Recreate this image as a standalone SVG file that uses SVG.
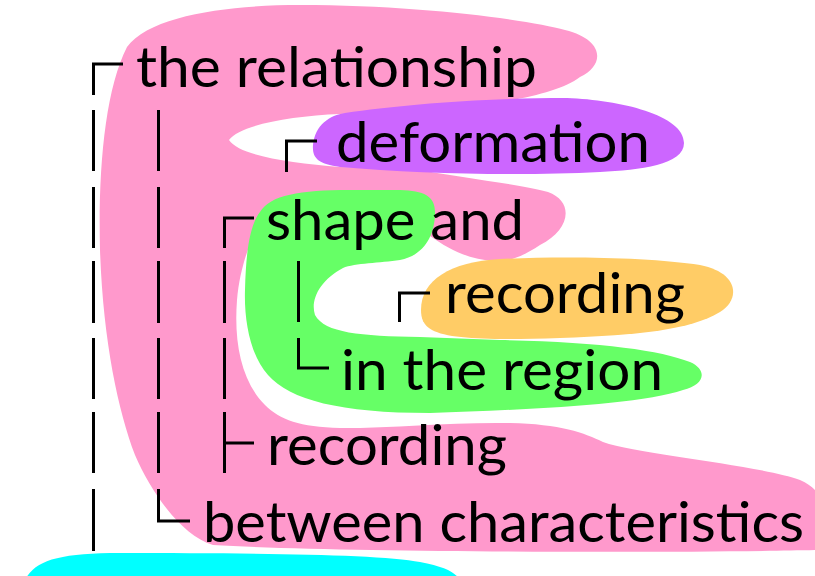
<svg xmlns="http://www.w3.org/2000/svg" width="815" height="576" viewBox="0 0 815 576">
<style>
.t{font-family:Lato,"Open Sans","Liberation Sans",sans-serif;font-size:57px;fill:#000}
.c{fill:none;stroke:#000;stroke-width:3;stroke-linejoin:miter;stroke-linecap:butt}
</style>
<rect width="815" height="576" fill="#fff"/>
<g id="highlights">
<path id="hl-pink" fill="#FF99CC" d="M127,47 C150,15 230,5 300,5 C420,5 530,20 565,30 C605,40 605,65 580,77 C560,92 520,100 467,107 C430,110 380,112 340,114 C290,116 240,125 229,140 C240,156 290,163 340,167 L410,168 C460,178 520,184 548,192 C575,202 570,230 540,245 C525,255 510,262 495,261 C470,260 450,250 430,236 L425,222 L262,222 C252,235 240,265 237,300 C234,340 240,380 265,405 C280,420 300,427 340,428 C400,428 450,422 510,423 C560,424 585,433 603,442 C640,455 760,465 800,480 C810,484 815,490 820,495 L820,550 C700,553 350,553 213,545 C180,535 150,490 135,455 C118,410 103,340 100,250 C98,170 105,90 127,47 Z"/>
<path id="hl-purple" fill="#CC66FF" d="M345,113 C400,105 480,98 567,98 C620,100 684,115 684,143 C684,165 640,170 600,172 C520,176 420,174 340,167 C318,164 312,158 313,145 C315,125 330,115 345,113 Z"/>
<path id="hl-green" fill="#66FF66" d="M260,212 C270,195 300,190 350,190 L400,190 C425,191 436,196 435,215 C434,235 425,255 400,260 C380,263 355,263 343,268 C320,280 310,300 315,315 C325,333 360,336 420,337 L500,340 C600,342 660,350 690,362 C708,370 705,385 683,390 C640,405 520,410 430,413 C340,413 290,400 268,375 C250,355 244,320 245,290 C246,250 250,225 260,212 Z"/>
<path id="hl-orange" fill="#FFCC66" d="M421,310 C421,280 450,262 500,259 C560,256 650,257 700,265 C740,273 740,300 720,312 C690,330 640,335 560,338 C500,340 450,340 432,330 C423,325 421,318 421,310 Z"/>
<path id="hl-cyan" fill="#00FFFF" d="M25,580 C35,560 60,553 120,553 C250,553 380,554 420,562 C445,567 455,572 460,580 Z"/>
</g>
<g id="connectors">
<path class="c" d="M123,64 H93.5 V95"/>
<path class="c" d="M93.5,110 V171 M93.5,187 V248 M93.5,261 V323 M93.5,338 V399 M93.5,412 V473 M93.5,489 V551"/>
<path class="c" d="M158.5,110 V171 M158.5,187 V248 M158.5,261 V323 M158.5,338 V399 M158.5,412 V473"/>
<path class="c" d="M158.5,489 V521 H190"/>
<path class="c" d="M317,141 H286.5 V172"/>
<path class="c" d="M254,218 H224.5 V248"/>
<path class="c" d="M224.5,261 V323 M224.5,338 V399"/>
<path class="c" d="M224.5,412 V473 M224.5,443 H254"/>
<path class="c" d="M298.5,261 V322"/>
<path class="c" d="M298.5,338 V368 H329"/>
<path class="c" d="M430,293 H399.5 V322"/>
</g>
<g id="node-relationship"><text class="t" x="136" y="87" textLength="401" lengthAdjust="spacingAndGlyphs">the relationship</text></g>
<g id="node-deformation"><text class="t" x="336" y="162" textLength="314" lengthAdjust="spacingAndGlyphs">deformation</text></g>
<g id="node-shape-and"><text class="t" x="266" y="240" textLength="258" lengthAdjust="spacingAndGlyphs">shape and</text></g>
<g id="node-recording-1"><text class="t" x="445" y="313" textLength="240" lengthAdjust="spacingAndGlyphs">recording</text></g>
<g id="node-in-the-region"><text class="t" x="341" y="390" textLength="322" lengthAdjust="spacingAndGlyphs">in the region</text></g>
<g id="node-recording-2"><text class="t" x="267" y="465" textLength="240" lengthAdjust="spacingAndGlyphs">recording</text></g>
<g id="node-between"><text class="t" x="203" y="542" textLength="601" lengthAdjust="spacingAndGlyphs">between characteristics</text></g>
</svg>
